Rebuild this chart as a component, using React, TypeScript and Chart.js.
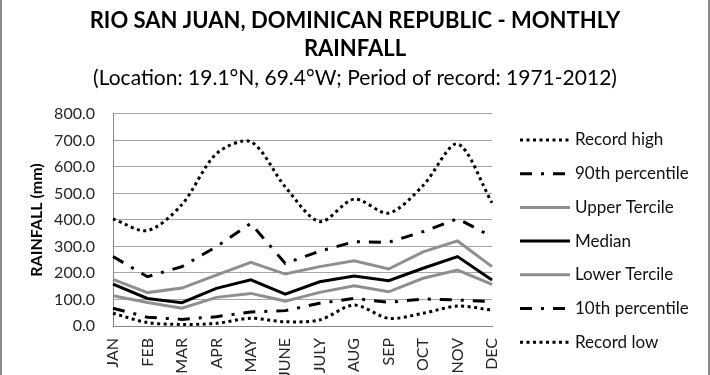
import React, { useEffect, useRef } from 'react';
import { Chart, registerables } from 'chart.js';

Chart.register(...registerables);

const months = ['JAN', 'FEB', 'MAR', 'APR', 'MAY', 'JUNE', 'JULY', 'AUG', 'SEP', 'OCT', 'NOV', 'DEC'];
const recordHigh = [404, 360, 458, 650, 695, 525, 394, 479, 426, 530, 687, 465];
const pct90 = [262, 186, 224, 299, 387, 236, 282, 318, 316, 356, 405, 337];
const upperTercile = [176, 126, 143, 192, 240, 196, 224, 246, 215, 280, 321, 224];
const median = [158, 104, 88, 142, 174, 120, 167, 189, 171, 218, 262, 174];
const lowerTercile = [114, 89, 67, 108, 123, 94, 127, 152, 129, 180, 211, 157];
const pct10 = [67, 33, 25, 35, 53, 58, 86, 104, 89, 102, 98, 92];
const recordLow = [48, 13, 6, 10, 29, 16, 23, 79, 29, 48, 75, 60];
const yTickValues = [0, 100, 200, 300, 400, 500, 600, 700, 800];

const titleLines = ['RIO SAN JUAN, DOMINICAN REPUBLIC - MONTHLY', 'RAINFALL'];
const subtitleText = '(Location: 19.1°N, 69.4°W; Period of record: 1971-2012)';
const yAxisTitle = 'RAINFALL (mm)';

const FONT = 'Lato, "Open Sans", sans-serif';

const legendPlugin = {
  id: 'customLegend',
  afterDraw(chart: any) {
    const ctx = chart.ctx;
    const top = 140;
    const step = 33.7;
    chart.data.datasets.forEach((ds: any, i: number) => {
      const y = top + i * step;
      ctx.save();
      ctx.strokeStyle = ds.borderColor;
      ctx.lineWidth = ds.borderWidth;
      ctx.lineCap = 'butt';
      ctx.setLineDash(ds.borderDash || []);
      ctx.beginPath();
      ctx.moveTo(520, y);
      ctx.lineTo(570, y);
      ctx.stroke();
      ctx.setLineDash([]);
      ctx.fillStyle = '#111';
      ctx.font = `17px ${FONT}`;
      ctx.textAlign = 'left';
      ctx.textBaseline = 'middle';
      ctx.fillText(ds.label, 575, y);
      ctx.restore();
    });
  },
};

const framePlugin = {
  id: 'frame',
  afterDraw(chart: any) {
    const ctx = chart.ctx;
    ctx.save();
    ctx.strokeStyle = '#8a8a8a';
    ctx.lineWidth = 2;
    ctx.beginPath();
    ctx.moveTo(1, 0);
    ctx.lineTo(1, chart.height);
    ctx.moveTo(chart.width - 1, 0);
    ctx.lineTo(chart.width - 1, chart.height);
    ctx.stroke();
    ctx.restore();
  },
};

export default function App() {
  const ref = useRef<HTMLCanvasElement | null>(null);

  useEffect(() => {
    document.body.style.margin = '0';
    const canvas = ref.current;
    if (!canvas) return;
    const dotted = [3, 3.5];
    const dashDot = [12, 9, 3, 9];
    const gray = '#8f8f8f';
    const chart = new Chart(canvas, {
      type: 'line',
      data: {
        labels: months,
        datasets: [
          { label: 'Record high', data: recordHigh, borderColor: '#000', borderWidth: 3, borderDash: dotted, tension: 0.3 },
          { label: '90th percentile', data: pct90, borderColor: '#000', borderWidth: 3, borderDash: dashDot, tension: 0 },
          { label: 'Upper Tercile', data: upperTercile, borderColor: gray, borderWidth: 3, tension: 0 },
          { label: 'Median', data: median, borderColor: '#000', borderWidth: 3, tension: 0 },
          { label: 'Lower Tercile', data: lowerTercile, borderColor: gray, borderWidth: 3, tension: 0 },
          { label: '10th percentile', data: pct10, borderColor: '#000', borderWidth: 3, borderDash: dashDot, tension: 0 },
          { label: 'Record low', data: recordLow, borderColor: '#000', borderWidth: 3, borderDash: dotted, tension: 0.3 },
        ].map((d) => ({ ...d, pointRadius: 0, fill: false, borderCapStyle: 'butt', yAxisID: 'y' })),
      },
      options: {
        animation: false,
        responsive: false,
        events: [],
        layout: { padding: { left: 0, right: 0, top: 0, bottom: 0 } },
        plugins: {
          legend: { display: false },
          tooltip: { enabled: false },
          title: {
            display: true,
            text: titleLines,
            color: '#000',
            font: { family: FONT, size: 22, weight: 'bold', lineHeight: 1.27 },
            padding: { top: 7, bottom: 0 },
          },
          subtitle: {
            display: true,
            text: subtitleText,
            color: '#000',
            font: { family: FONT, size: 21, lineHeight: 1.2 },
            padding: { top: 2.5, bottom: 23.4 },
          },
        },
        scales: {
          x: {
            grid: { display: false, drawTicks: false },
            border: { display: true, color: '#868686', width: 1 },
            ticks: {
              minRotation: 90,
              maxRotation: 90,
              autoSkip: false,
              padding: 12,
              color: '#262626',
              font: { family: FONT, size: 16 },
            },
            afterFit: (s: any) => {
              s.height = 49;
            },
          },
          y: {
            min: 0,
            max: 800,
            afterBuildTicks: (s: any) => {
              s.ticks = yTickValues.map((v) => ({ value: v }));
            },
            grid: { color: '#a6a6a6', lineWidth: 1, drawTicks: false },
            border: { display: true, color: '#868686', width: 1 },
            ticks: {
              padding: 18,
              color: '#262626',
              font: { family: FONT, size: 16 },
              callback: (v: any) => Number(v).toFixed(1),
            },
            title: {
              display: true,
              text: yAxisTitle,
              color: '#000',
              font: { family: FONT, size: 16, weight: 'bold', lineHeight: 1.2 },
              padding: { top: 27.5, bottom: 0 },
            },
            afterFit: (s: any) => {
              s.width = 113;
            },
          },
          legendSpace: {
            position: 'right',
            min: 0,
            max: 1,
            grid: { display: false, drawTicks: false },
            border: { display: false },
            ticks: { display: false },
            afterFit: (s: any) => {
              s.width = 218;
            },
          },
        },
      },
      plugins: [legendPlugin, framePlugin],
    } as any);
    return () => chart.destroy();
  }, []);

  return <canvas ref={ref} width={710} height={375} style={{ display: 'block' }} />;
}
